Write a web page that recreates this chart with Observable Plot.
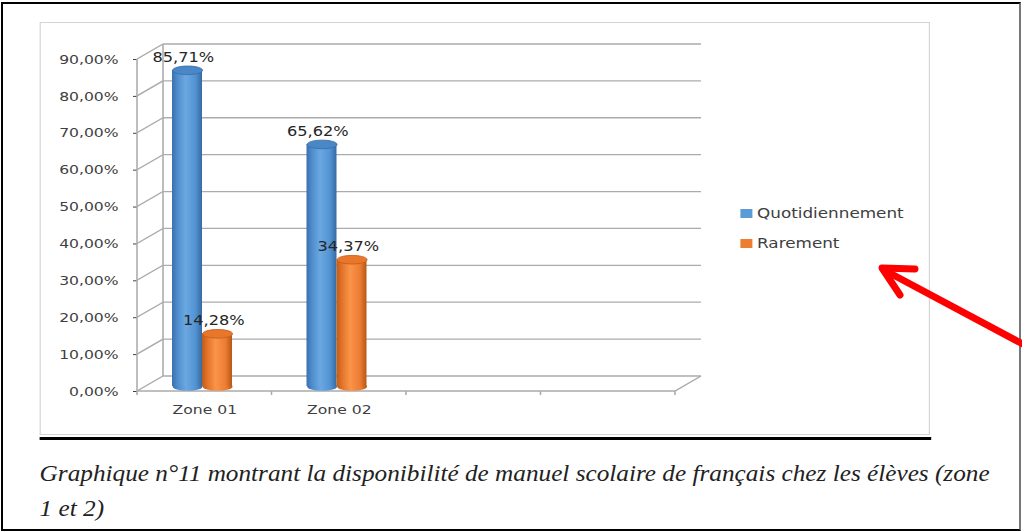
<!DOCTYPE html>
<html><head><meta charset="utf-8">
<script src="https://cdn.jsdelivr.net/npm/d3@7"></script>
<script src="https://cdn.jsdelivr.net/npm/@observablehq/plot@0.6"></script>
<style>
html,body{margin:0;padding:0;background:#fff;}
#page{position:relative;width:1022px;height:532px;overflow:hidden;background:#fff;}
#border{position:absolute;left:1px;top:2px;width:1016px;height:525px;border:2px solid #000;border-right-color:#777;}
#stretch{position:absolute;left:0;top:0;width:851.667px;height:532px;transform:scaleX(1.2);transform-origin:0 0;}
#chartbox{position:absolute;left:33.33px;top:21.5px;width:741.67px;height:413.5px;border:1.5px solid #d4d4d4;box-sizing:border-box;}
#rule{position:absolute;left:33.33px;top:437px;width:742.5px;height:3px;background:#000;}
#plot{position:absolute;left:0;top:0;}
.leg{position:absolute;left:616.7px;height:16px;display:flex;align-items:center;font:14px "DejaVu Sans",sans-serif;color:#404040;white-space:nowrap;}
.sw{display:inline-block;width:10.8px;height:9px;margin-right:3.4px;}
#caption{position:absolute;left:32.5px;top:456px;font-family:"Liberation Serif",serif;font-style:italic;font-size:23px;line-height:35px;color:#222;white-space:nowrap;transform-origin:0 0;}
#arrow{position:absolute;left:0;top:0;}
</style></head>
<body>
<div id="page">
  <div id="border"></div>
  <div id="stretch">
    <div id="chartbox"></div>
    <div id="plot"></div>
    <div id="legend"></div>
    <div id="rule"></div>
    <div id="caption"><span id="cap1">Graphique n°11 montrant la disponibilité de manuel scolaire de français chez les élèves (zone</span><br><span>1 et 2)</span></div>
  </div>
  <svg id="arrow" width="1022" height="532"><g stroke="#ff0000" stroke-width="7" stroke-linecap="round" stroke-linejoin="round" fill="none"><path d="M1034,350 L884,270"/><path d="M915,269 L882,268 L900,295"/></g></svg>
</div>
<script>
// ---- data ----
const zones = ["Zone 01", "Zone 02"];
const quotidiennement = [0.8571, 0.6562];
const rarement = [0.1428, 0.3437];
const categories = ["Zone 01", "Zone 02", " ", "  "];
const series = ["Quotidiennement", "Rarement"];
const seriesColors = ["#5b9bd5", "#ed7d31"];
const yTicks = [0, 0.1, 0.2, 0.3, 0.4, 0.5, 0.6, 0.7, 0.8, 0.9];

const fmt = d => (d * 100).toFixed(2).replace(".", ",") + "%";
const S = 1.2;              // horizontal stretch of the whole picture
const W = 1022 / S;
const fl = 137 / S, fr = 675 / S;
const bw = (fr - fl) / categories.length;
const barW = 30 / S, blueLeft = 35 / S, orangeLeft = blueLeft + barW;
const DX = 26 / S, DY = -15, BARDY = -5;

const dataQ = zones.map((zone, i) => ({zone, value: quotidiennement[i]}));
const dataR = zones.map((zone, i) => ({zone, value: rarement[i]}));
const dataZero = zones.map(zone => ({zone, value: 0}));

const ellipse = {
  draw(ctx) {
    const rx = barW / 2, ry = 4.3, k = 0.5523;
    ctx.moveTo(rx, 0);
    ctx.bezierCurveTo(rx, ry * k, rx * k, ry, 0, ry);
    ctx.bezierCurveTo(-rx * k, ry, -rx, ry * k, -rx, 0);
    ctx.bezierCurveTo(-rx, -ry * k, -rx * k, -ry, 0, -ry);
    ctx.bezierCurveTo(rx * k, -ry, rx, -ry * k, rx, 0);
    ctx.closePath();
  }
};

const defs = () => {
  const d = d3.create("svg:defs");
  const grads = {
    gBlue: [["0%", "#3a70ad"], ["18%", "#4f8ccc"], ["45%", "#6aa8e2"], ["78%", "#5393d2"], ["100%", "#356aa6"]],
    gOrange: [["0%", "#bf5b18"], ["18%", "#e2742a"], ["45%", "#fa9448"], ["78%", "#ec7d33"], ["100%", "#b85716"]]
  };
  for (const [id, stops] of Object.entries(grads)) {
    const g = d.append("linearGradient").attr("id", id).attr("x1", 0).attr("x2", 1).attr("y1", 0).attr("y2", 0);
    for (const [o, c] of stops) g.append("stop").attr("offset", o).attr("stop-color", c);
  }
  return d.node();
};

const grid = (index, scales, values, dims) => {
  const {x, y} = scales;
  const L = dims.marginLeft, R = dims.width - dims.marginRight;
  const g = d3.create("svg:g").attr("fill", "none").attr("stroke", "#ababab").attr("stroke-width", 1.3);
  const y0 = y(0), yTop = y(yTicks[yTicks.length - 1]);
  for (const t of yTicks) {
    const yy = y(t);
    g.append("path").attr("d", `M${L + DX},${yy + DY}H${R + DX}`);
    g.append("path").attr("d", `M${L},${yy}L${L + DX},${yy + DY}`);
  }
  g.append("path").attr("d", `M${L},${yTop}V${y0}`);
  g.append("path").attr("d", `M${L + DX},${yTop + DY}V${y0 + DY}`);
  g.append("path").attr("d", `M${L},${y0}H${R}L${R + DX},${y0 + DY}`);
  const bounds = categories.map(c => x(c)).concat([R]);
  for (const bx of bounds) g.append("path").attr("d", `M${bx},${y0}V${y0 + 4}`);
  return g.node();
};

const plot = Plot.plot({
  width: W,
  height: 440,
  marginLeft: fl,
  marginRight: W - fr,
  marginTop: 59,
  marginBottom: 49,
  style: {fontFamily: '"DejaVu Sans", sans-serif', fontSize: "13px", color: "#404040", background: "transparent", overflow: "visible"},
  x: {domain: categories, padding: 0, round: false, tickSize: 0, tickPadding: 13, label: null},
  y: {domain: [0, 0.9], ticks: yTicks, tickFormat: fmt, tickSize: 4 / S, tickPadding: 15 / S, label: null},
  marks: [
    defs,
    grid,
    // cylinder bottoms
    Plot.dot(dataZero, {x: "zone", y: "value", symbol: ellipse, r: 5, fill: "url(#gBlue)", dx: blueLeft + barW / 2 - bw / 2, dy: BARDY}),
    Plot.dot(dataZero, {x: "zone", y: "value", symbol: ellipse, r: 5, fill: "url(#gOrange)", dx: orangeLeft + barW / 2 - bw / 2, dy: BARDY}),
    // cylinder bodies
    Plot.barY(dataQ, {x: "zone", y: "value", fill: "url(#gBlue)", insetLeft: blueLeft, insetRight: bw - blueLeft - barW, dy: BARDY}),
    Plot.barY(dataR, {x: "zone", y: "value", fill: "url(#gOrange)", insetLeft: orangeLeft, insetRight: bw - orangeLeft - barW, dy: BARDY}),
    // cylinder tops
    Plot.dot(dataQ, {x: "zone", y: "value", symbol: ellipse, r: 5, fill: "#4a87c7", stroke: "#3b6fa8", strokeWidth: 0.8, dx: blueLeft + barW / 2 - bw / 2, dy: BARDY}),
    Plot.dot(dataR, {x: "zone", y: "value", symbol: ellipse, r: 5, fill: "#ea762b", stroke: "#c4601c", strokeWidth: 0.8, dx: orangeLeft + barW / 2 - bw / 2, dy: BARDY}),
    // value labels
    Plot.text(dataQ, {x: "zone", y: "value", text: d => fmt(d.value), dx: -21.5 / S, dy: -18, fill: "#262626", fontSize: 13.5}),
    Plot.text(dataR, {x: "zone", y: "value", text: d => fmt(d.value), dx: 9 / S, dy: -18, fill: "#262626", fontSize: 13.5})
  ]
});
document.getElementById("plot").appendChild(plot);

// legend
const legend = document.getElementById("legend");
series.forEach((s, i) => {
  const item = document.createElement("div");
  item.className = "leg";
  item.style.top = (205 + i * 30) + "px";
  const sw = document.createElement("span");
  sw.className = "sw";
  sw.style.background = seriesColors[i];
  item.appendChild(sw);
  item.appendChild(document.createTextNode(s));
  legend.appendChild(item);
});

// fit caption first line to the reference width (40 → 990 px) by condensing it
const cap = document.getElementById("caption");
const w1 = document.getElementById("cap1").getBoundingClientRect().width;
if (w1 > 0) cap.style.transform = `scaleX(${(950 / w1).toFixed(4)})`;
</script>
</body></html>
